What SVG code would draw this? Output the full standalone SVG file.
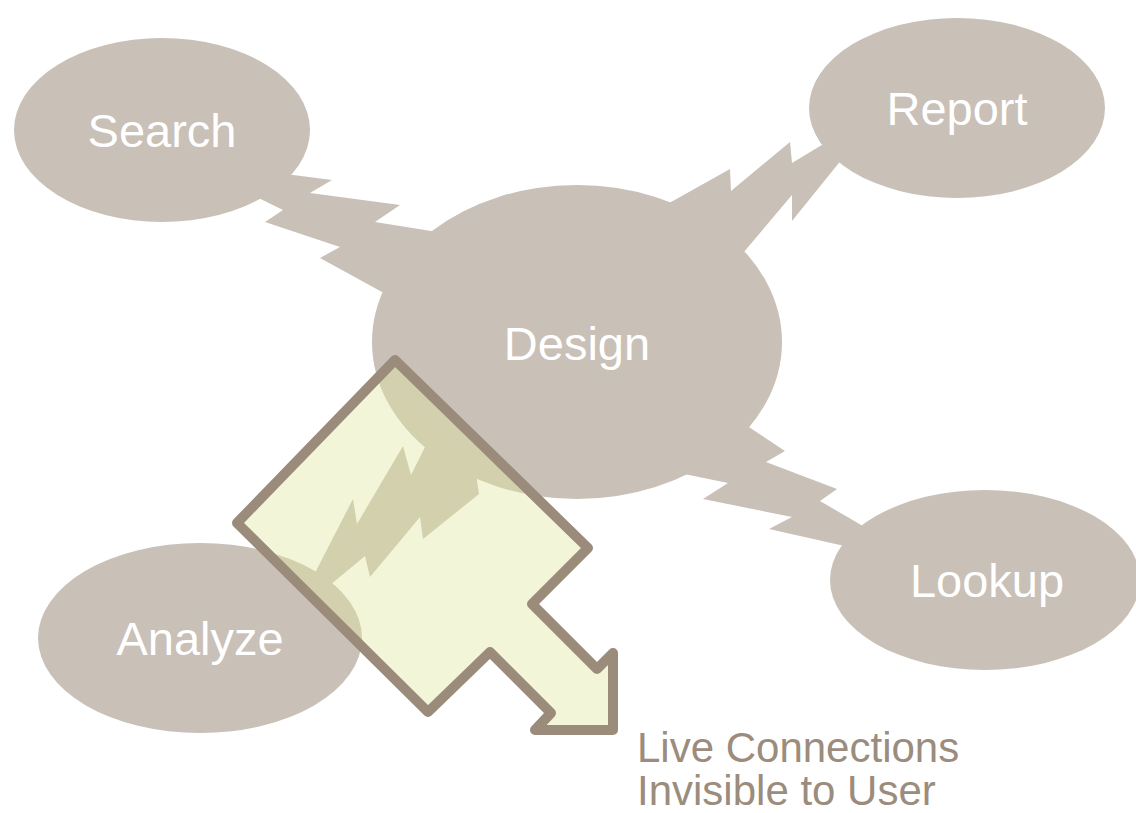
<svg xmlns="http://www.w3.org/2000/svg" width="1136" height="813" viewBox="0 0 1136 813">
<style>
.bolt{fill:#c9c0b7;stroke:none}
.node{fill:#c9c0b7;stroke:none}
.lbl{font-family:"Liberation Sans",Arial,sans-serif;font-size:47px;fill:#ffffff;text-anchor:middle}
.note{font-family:"Liberation Sans",Arial,sans-serif;font-size:42px;fill:#9b8c7d}
.callout{fill:#e1e7a0;fill-opacity:0.41;stroke:#9b8b7b;stroke-width:10;stroke-linejoin:round}
</style>
<rect width="1136" height="813" fill="#ffffff"/>
<g id="connectors">
<polygon class="bolt" points="262,171 332,180 310,193 400,205 375,222 450,234 420,313 382,292 320,258 340,247 265,222 283,210 238,188"/>
<polygon class="bolt" points="655,211 730,169 731,191 790,142 792,163 845,131 855,143 792,221 792,195 727,272"/>
<polygon class="bolt" points="720,408 785,451 766,462 837,489 820,501 880,536 880,554 769,529 792,517 703,499 728,483 660,469"/>
<polygon class="bolt" points="440,417 474,460 479,494 423,539 420,517 370,577 365,556 300,610 300,602 353,499 357,524 403,446 411,475"/>
</g>
<g id="search"><ellipse class="node" cx="162" cy="130" rx="148" ry="92"/><text class="lbl" x="162" y="147">Search</text></g>
<g id="report"><ellipse class="node" cx="957" cy="108" rx="148" ry="90"/><text class="lbl" x="957" y="125">Report</text></g>
<g id="design"><ellipse class="node" cx="577" cy="342" rx="205" ry="157"/><text class="lbl" x="577" y="360">Design</text></g>
<g id="lookup"><ellipse class="node" cx="985" cy="580" rx="155" ry="90"/><text class="lbl" x="987" y="597">Lookup</text></g>
<g id="analyze"><ellipse class="node" cx="200" cy="638" rx="162" ry="95"/><text class="lbl" x="200" y="655">Analyze</text></g>
<g id="callout">
<polygon class="callout" points="395,360 588,548 532,604 597,669 613,653 613,730 535,730 551,713 490,652 428,712 237,523"/>
<text class="note" x="637" y="762">Live Connections</text>
<text class="note" x="637" y="805">Invisible to User</text>
</g>
</svg>
